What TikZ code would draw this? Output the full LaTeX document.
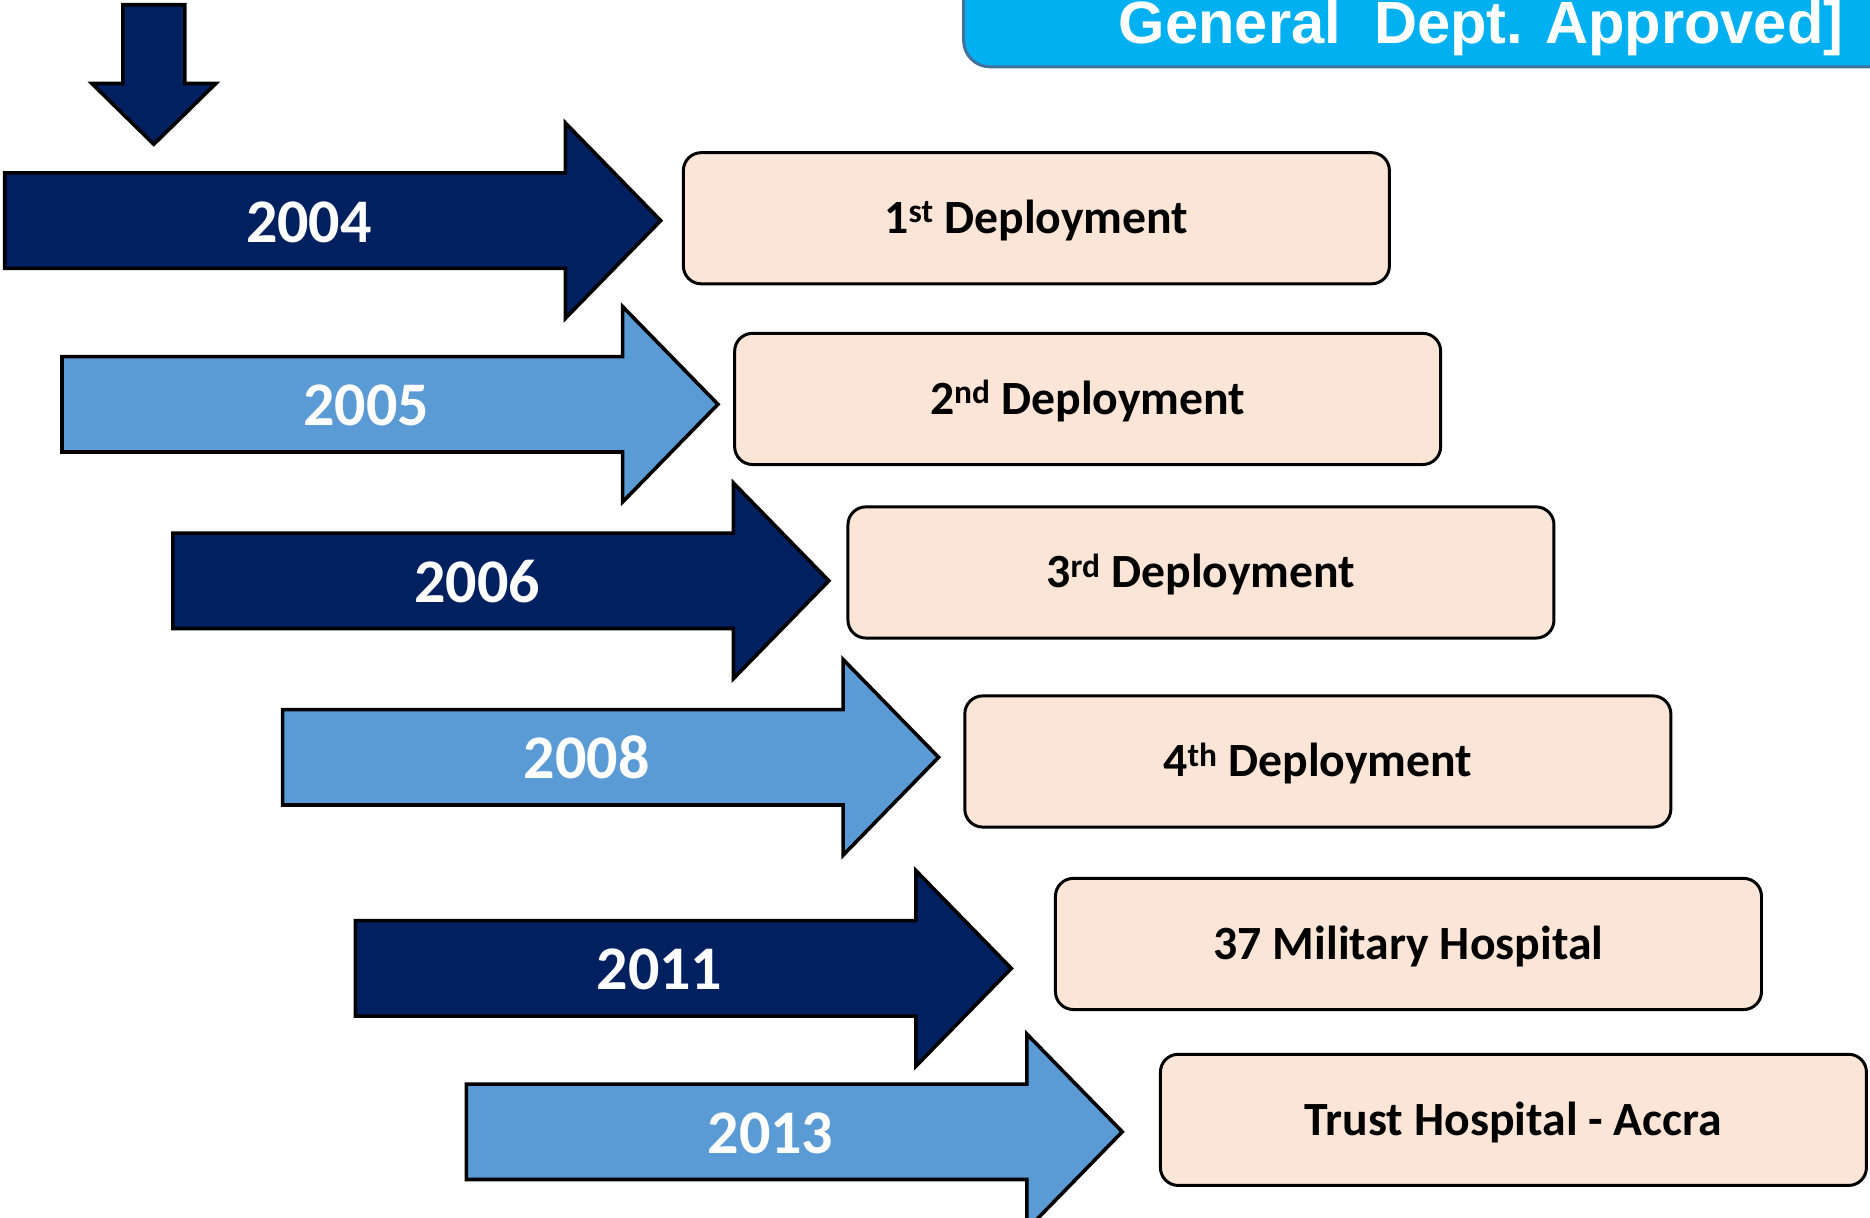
\documentclass[tikz,border=0pt]{standalone}
\usepackage{fontspec}
\setmainfont{Carlito}
\newfontfamily\bannerfont{Liberation Sans}
\usepackage{xcolor}
\definecolor{yeardark}{HTML}{002060}
\definecolor{yearlight}{HTML}{5B9BD5}
\definecolor{deployfill}{HTML}{FBE5D6}
\definecolor{bannerfill}{HTML}{00B0F0}
\definecolor{bannerline}{HTML}{41719C}
\usepackage{tikz}

\begin{document}
\begin{tikzpicture}[x=1pt, y=-1pt,
yeararrow/.style = {draw=black, line width=3pt, line join=miter},
year/.style = {text=white, inner sep=0pt, text height=33pt, text depth=0pt, font=\fontsize{52}{60}\selectfont\bfseries},
deploy/.style = {draw=black, fill=deployfill, rectangle, rounded corners=15pt, line width=2.5pt, minimum width=592pt, minimum height=110pt, inner sep=0pt, text height=25.8pt, text depth=0pt, font=\fontsize{40}{48}\selectfont\bfseries},
banner/.style = {draw=bannerline, fill=bannerfill, line width=2.5pt, rounded corners=22pt},
bannertext/.style = {text=white, inner sep=0pt, font=\bannerfont\fontsize{50}{60}\selectfont\bfseries}
]

    \clip (0,0) rectangle (1568,1021);

    \draw [banner] (808,-60) rectangle (1640,56);
    \node [bannertext, anchor=base west] (approved) at (938,36.5) {General\ \ Dept. Approved]};

    \draw [yeararrow, fill=yeardark] (103,4) -- (155,4) -- (155,70) -- (181,70) -- (129,121) -- (77,70) -- (103,70) -- cycle;

    \draw [yeararrow, fill=yeardark] (4,145) -- ++(470,0) -- ++(0,-42) -- ++(80,82) -- ++(-80,82) -- ++(0,-42) -- ++(-470,0) -- cycle;
    \draw [yeararrow, fill=yearlight] (52,299) -- ++(470,0) -- ++(0,-42) -- ++(80,82) -- ++(-80,82) -- ++(0,-42) -- ++(-470,0) -- cycle;
    \draw [yeararrow, fill=yeardark] (145,447) -- ++(470,0) -- ++(0,-42) -- ++(80,82) -- ++(-80,82) -- ++(0,-42) -- ++(-470,0) -- cycle;
    \draw [yeararrow, fill=yearlight] (237,595) -- ++(470,0) -- ++(0,-42) -- ++(80,82) -- ++(-80,82) -- ++(0,-42) -- ++(-470,0) -- cycle;
    \draw [yeararrow, fill=yeardark] (298,772) -- ++(470,0) -- ++(0,-42) -- ++(80,82) -- ++(-80,82) -- ++(0,-42) -- ++(-470,0) -- cycle;
    \draw [yeararrow, fill=yearlight] (391,909) -- ++(470,0) -- ++(0,-42) -- ++(80,82) -- ++(-80,82) -- ++(0,-42) -- ++(-470,0) -- cycle;

    \node [year] (y2004) at (259,186.5) {2004};
    \node [year] (y2005) at (307,340.5) {2005};
    \node [year] (y2006) at (400,488.5) {2006};
    \node [year] (y2008) at (492,636.5) {2008};
    \node [year] (y2011) at (553,813.5) {2011};
    \node [year] (y2013) at (646,950.5) {2013};

    \node [deploy] (dep1) at (869,183) {1\textsuperscript{st} Deployment};
    \node [deploy] (dep2) at (912,334.5) {2\textsuperscript{nd} Deployment};
    \node [deploy] (dep3) at (1007,480) {3\textsuperscript{rd} Deployment};
    \node [deploy] (dep4) at (1105,638.5) {4\textsuperscript{th} Deployment};
    \node [deploy] (mil37) at (1181,791.5) {37 Military Hospital};
    \node [deploy] (trust) at (1269,939) {Trust Hospital - Accra};

\end{tikzpicture}
\end{document}
